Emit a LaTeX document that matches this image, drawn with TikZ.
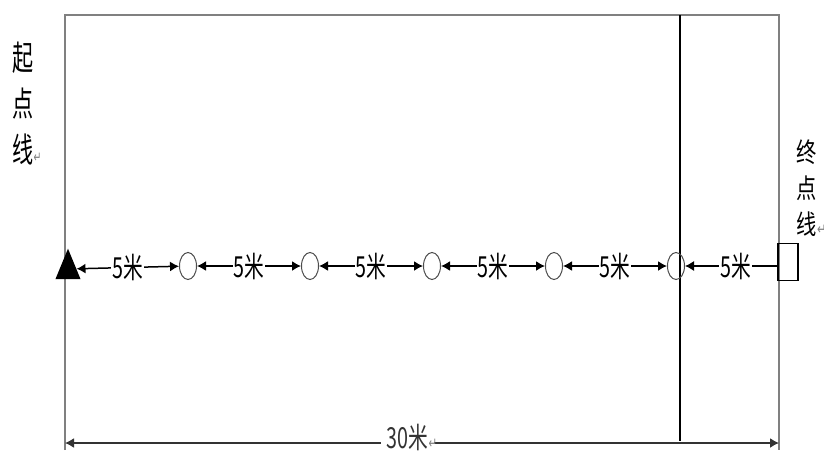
\documentclass[tikz,border=0pt]{standalone}
\usepackage{fontspec}
\newfontfamily\cjk{Noto Sans CJK SC}
\newfontfamily\symf{DejaVu Sans}
\usetikzlibrary{arrows.meta,shapes.geometric}
\newcommand{\ret}{\rlap{\symf\color{gray}\fontsize{15}{15}\selectfont ↵}}
\begin{document}
\begin{tikzpicture}[x=1pt,y=-1pt,
    dist/.style={fill=white,inner sep=1.5pt,font=\cjk\fontsize{29}{29}\selectfont,xscale=0.68},
    gap/.style={{Latex[length=9pt,width=10pt]}-{Latex[length=9pt,width=10pt]},line width=1.5pt},
    cone/.style={draw=black!70,ellipse,line width=1pt,minimum width=17pt,minimum height=27pt,inner sep=0pt}]
    \useasboundingbox (0,0) rectangle (824,450);
    % field border and the line near the finish
    \draw[black!50,line width=2.2pt] (65,450) -- (65,15) -- (779,15) -- (779,450);
    \draw[line width=1.3pt] (680,15) -- (680,441);
    \node[align=center,font=\cjk\fontsize{34}{46}\selectfont,xscale=0.62] (startline) at (23,104) {起\\点\\线\ret};
    \node[align=center,font=\cjk\fontsize{27}{36}\selectfont,xscale=0.75] (endline) at (807,188) {终\\点\\线\ret};
    % start mark, cones and finish box
    \node[regular polygon,regular polygon sides=3,fill=black,minimum size=29pt,inner sep=0pt,yscale=1.4] (start) at (68,269) {};
    \foreach \i/\x in {1/188,2/310,3/432,4/554,5/676}
        \node[cone] (c\i) at (\x,266) {};
    \node[draw,line width=1.2pt,minimum width=20pt,minimum height=37pt,inner sep=0pt] (finish) at (788,262) {};
    \draw[gap] (start) -- node[dist]{5米} (c1);
    \draw[gap] (c1) -- node[dist]{5米} (c2);
    \draw[gap] (c2) -- node[dist]{5米} (c3);
    \draw[gap] (c3) -- node[dist]{5米} (c4);
    \draw[gap] (c4) -- node[dist]{5米} (c5);
    \draw[-{Latex[length=9pt,width=10pt]},line width=1.1pt] (finish.west|-c5) -- node[dist,pos=0.45]{5米} (c5);
    % total length
    \coordinate (left) at (65,443);
    \coordinate (right) at (779,443);
    \draw[gap,black!80] (left) -- node[dist,pos=0.48,yshift=6pt,inner xsep=8pt]{30米\ret\hspace{14pt}} (right);
\end{tikzpicture}
\end{document}
